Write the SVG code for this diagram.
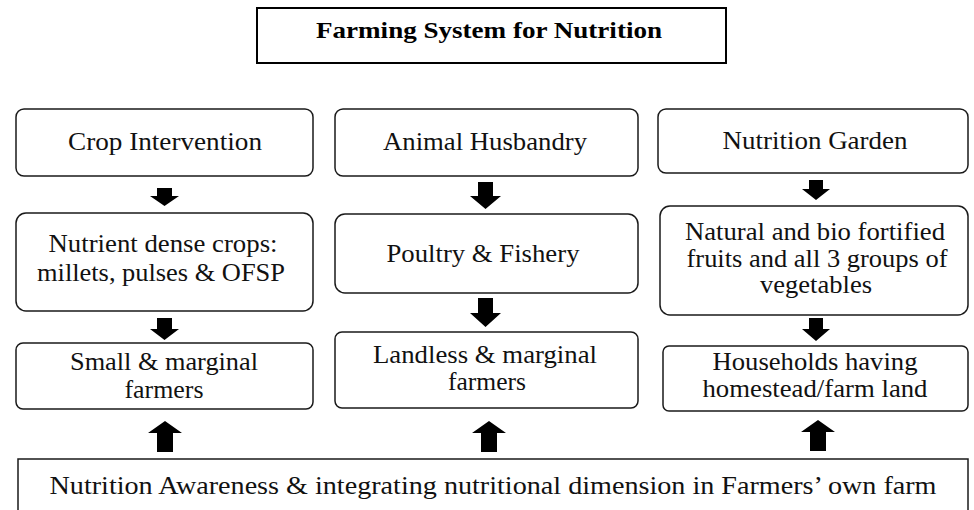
<svg xmlns="http://www.w3.org/2000/svg" width="974" height="510" viewBox="0 0 974 510">
<style>
.box{fill:#fff;stroke:#1a1a1a;stroke-width:1.5}
.t{font-size:25px;fill:#111;text-anchor:middle}
.title{font-size:24px;font-weight:bold;fill:#000;text-anchor:middle}
.arr{fill:#000}
</style>
<rect width="974" height="510" fill="#fff"/>
<g id="nodes" font-family="Liberation Serif">
<g id="title">
<rect x="257" y="8" width="469" height="55" fill="#fff" stroke="#000" stroke-width="2"/>
<text class="title" x="489" y="38" font-family="Liberation Serif" textLength="346" lengthAdjust="spacingAndGlyphs">Farming System for Nutrition</text>
</g>
<g id="crop">
<rect class="box" x="16" y="109" width="297" height="67" rx="8"/>
<text class="t" x="165" y="150" font-family="Liberation Serif" textLength="194" lengthAdjust="spacingAndGlyphs">Crop Intervention</text>
</g>
<g id="animal">
<rect class="box" x="335" y="109" width="303" height="67" rx="8"/>
<text class="t" x="485" y="150" font-family="Liberation Serif" textLength="204" lengthAdjust="spacingAndGlyphs">Animal Husbandry</text>
</g>
<g id="garden">
<rect class="box" x="658" y="109" width="310" height="64" rx="8"/>
<text class="t" x="815" y="149" font-family="Liberation Serif" textLength="185" lengthAdjust="spacingAndGlyphs">Nutrition Garden</text>
</g>
<g id="crops">
<rect class="box" x="16" y="213" width="297" height="98" rx="10"/>
<text class="t" x="163" y="252" font-family="Liberation Serif" textLength="229" lengthAdjust="spacingAndGlyphs">Nutrient dense crops:</text>
<text class="t" x="161" y="281" font-family="Liberation Serif" textLength="248" lengthAdjust="spacingAndGlyphs">millets, pulses &amp; OFSP</text>
</g>
<g id="poultry">
<rect class="box" x="335" y="214" width="303" height="79" rx="10"/>
<text class="t" x="483" y="262" font-family="Liberation Serif" textLength="193" lengthAdjust="spacingAndGlyphs">Poultry &amp; Fishery</text>
</g>
<g id="fruits">
<rect class="box" x="660" y="206" width="308" height="109" rx="10"/>
<text class="t" x="815" y="240" font-family="Liberation Serif" textLength="260" lengthAdjust="spacingAndGlyphs">Natural and bio fortified</text>
<text class="t" x="817" y="267" font-family="Liberation Serif" textLength="261" lengthAdjust="spacingAndGlyphs">fruits and all 3 groups of</text>
<text class="t" x="816" y="293" font-family="Liberation Serif" textLength="112" lengthAdjust="spacingAndGlyphs">vegetables</text>
</g>
<g id="small">
<rect class="box" x="16" y="343" width="297" height="66" rx="7"/>
<text class="t" x="164" y="370" font-family="Liberation Serif" textLength="188" lengthAdjust="spacingAndGlyphs">Small &amp; marginal</text>
<text class="t" x="164" y="398" font-family="Liberation Serif" textLength="79" lengthAdjust="spacingAndGlyphs">farmers</text>
</g>
<g id="landless">
<rect class="box" x="335" y="332" width="303" height="76" rx="7"/>
<text class="t" x="485" y="363" font-family="Liberation Serif" textLength="224" lengthAdjust="spacingAndGlyphs">Landless &amp; marginal</text>
<text class="t" x="487" y="390" font-family="Liberation Serif" textLength="78" lengthAdjust="spacingAndGlyphs">farmers</text>
</g>
<g id="households">
<rect class="box" x="663" y="346" width="305" height="65" rx="6"/>
<text class="t" x="815" y="370" font-family="Liberation Serif" textLength="205" lengthAdjust="spacingAndGlyphs">Households having</text>
<text class="t" x="815" y="397" font-family="Liberation Serif" textLength="225" lengthAdjust="spacingAndGlyphs">homestead/farm land</text>
</g>
<g id="awareness">
<rect class="box" x="18" y="459" width="950" height="60"/>
<text class="t" x="493" y="494" font-family="Liberation Serif" textLength="887" lengthAdjust="spacingAndGlyphs">Nutrition Awareness &amp; integrating nutritional dimension in Farmers’ own farm</text>
</g>
</g>
<g id="connectors">
<path class="arr" d="M157,188 h15 v8 h7 l-14.5,10 l-14.5,-10 h7 z"/>
<path class="arr" d="M157,318 h15 v11 h7 l-14.5,11 l-14.5,-11 h7 z"/>
<path class="arr" d="M478,182 h15 v14 h8 l-15.5,13 l-15.5,-13 h8 z"/>
<path class="arr" d="M478,298 h15 v15 h8 l-15.5,14 l-15.5,-14 h8 z"/>
<path class="arr" d="M809,180 h14 v9 h7 l-14,11 l-14,-11 h7 z"/>
<path class="arr" d="M809,318 h14 v11 h7 l-14,12 l-14,-12 h7 z"/>
<path class="arr" d="M157,452 h16 v-19 h9 l-17,-12 l-17,12 h9 z"/>
<path class="arr" d="M481,452 h16 v-19 h9 l-17,-12 l-17,12 h9 z"/>
<path class="arr" d="M810,451 h16 v-19 h9 l-17,-12 l-17,12 h9 z"/>
</g>
</svg>
